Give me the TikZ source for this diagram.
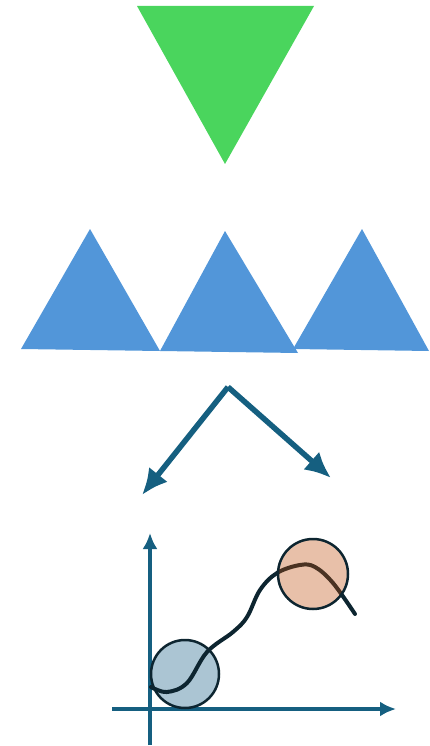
\documentclass[tikz,border=0pt]{standalone}
\usepackage{tikz}
\usetikzlibrary{arrows.meta}
\definecolor{gruen}{RGB}{74,213,93}
\definecolor{blau}{RGB}{82,150,217}
\definecolor{petrol}{RGB}{21,95,128}
\definecolor{dunkel}{RGB}{13,37,48}
\definecolor{hellblau}{RGB}{171,197,211}
\definecolor{orange}{RGB}{189,75,9}
\begin{document}
\begin{tikzpicture}[x=1pt, y=-1pt,
		>=Latex,   %Pfeilspitzen
		dreieck/.style={fill=#1, draw=none},
		pfeil/.style={-{Latex[length=26pt,width=24pt]}, petrol, line width=5.5pt},
		achse/.style={-{Latex[length=16pt,width=15pt]}, petrol, line width=3.2pt},
		kreis/.style={fill=#1, draw=dunkel, line width=2.5pt}]
		\useasboundingbox (0,0) rectangle (429,746); %Bildbereich
		% gruenes Dreieck
		\fill[dreieck=gruen] (137,6) -- (314,6) -- (225,164) -- cycle;
		% blaue Dreiecke
		\fill[dreieck=blau] (21,349) -- (90,229) -- (160,351) -- cycle;
		\fill[dreieck=blau] (293,349) -- (362,229) -- (429,351) -- cycle;
		\fill[dreieck=blau] (160,351) -- (225,231) -- (298,353) -- cycle;
		% Pfeile
		\coordinate (spitze) at (228,387);
		\coordinate (links) at (142,495);
		\coordinate (rechts) at (331,478);
		\draw[pfeil] (spitze) -- (links);
		\draw[pfeil] (spitze) -- (rechts);
		% Achsen zeichnen
		\draw[achse] (150,745) -- (150,533);
		\draw[achse] (112,709) -- (396,709);
		% Kreise und Kurve
		\draw[kreis=hellblau] (185,674) circle [radius=34];
		\draw[dunkel, line width=4pt, line cap=round] plot[smooth, tension=0.6] coordinates
			{(151,687) (167,692) (187,683) (207,652) (233,632) (247,617) (260,590) (277,573) (300,565) (315,567) (333,583) (355,614)};
		\draw[kreis=orange, fill opacity=0.35] (313,574) circle [radius=35];
	\end{tikzpicture}
\end{document}
